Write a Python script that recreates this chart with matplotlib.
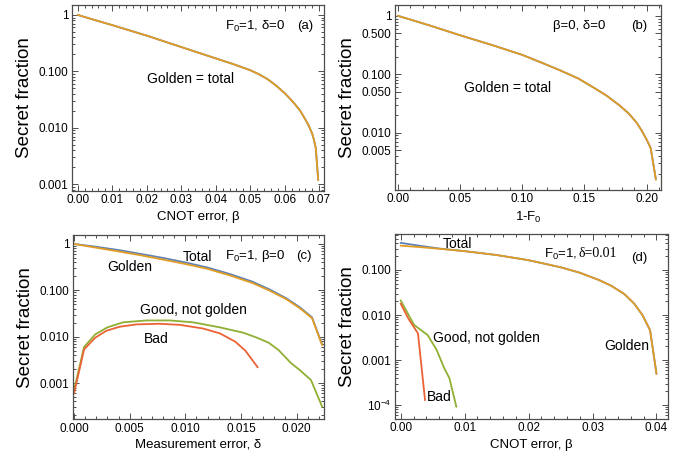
import numpy as np
import matplotlib
matplotlib.use('Agg')
import matplotlib.pyplot as plt
from matplotlib.ticker import FixedLocator, AutoMinorLocator, LogLocator, NullFormatter

plt.rcParams['font.family'] = ['Liberation Sans', 'DejaVu Sans']
plt.rcParams['mathtext.fontset'] = 'custom'
plt.rcParams['mathtext.rm'] = 'Liberation Sans'
plt.rcParams['mathtext.it'] = 'Liberation Sans:italic'

BLUE = '#5E81B5'
ORANGE = '#E19C24'
GREEN = '#8FB032'
RED = '#EB6235'
FRAME = '#4d4d4d'

# (a) F0=1, delta=0, vs CNOT error beta
beta_a = [0, 0.005, 0.01, 0.02, 0.03, 0.04, 0.045, 0.05, 0.0525, 0.055, 0.0575, 0.06, 0.0615,
          0.063, 0.0645, 0.066, 0.067, 0.068, 0.0685, 0.069, 0.0697]
golden_a = [1.0, 0.81, 0.66, 0.43, 0.27, 0.17, 0.135, 0.105, 0.089, 0.073, 0.056, 0.041, 0.033,
            0.026, 0.020, 0.014, 0.0108, 0.0078, 0.0060, 0.0044, 0.0012]

# (b) beta=0, delta=0, vs 1-F0
inf_b = [0, 0.025, 0.05, 0.075, 0.10, 0.115, 0.13, 0.145, 0.157, 0.168, 0.1786, 0.186, 0.192,
         0.196, 0.200, 0.2033, 0.2075]
golden_b = [1.0, 0.69, 0.465, 0.32, 0.215, 0.16, 0.118, 0.085, 0.060, 0.043, 0.029, 0.021, 0.0149,
            0.011, 0.0077, 0.0055, 0.0016]

# (c) F0=1, beta=0, vs measurement error delta
delta_c = [0, 0.002, 0.004, 0.006, 0.008, 0.010, 0.012, 0.014, 0.016, 0.0176, 0.0191, 0.0203, 0.0214, 0.0223]
total_c = [1.0, 0.87, 0.74, 0.61, 0.50, 0.40, 0.31, 0.225, 0.155, 0.104, 0.067, 0.043, 0.026, 0.0068]
golden_c = [1.0, 0.83, 0.69, 0.57, 0.46, 0.37, 0.29, 0.21, 0.145, 0.098, 0.064, 0.041, 0.025, 0.0066]
delta_good_c = [0, 0.0009, 0.0019, 0.003, 0.0044, 0.0065, 0.0086, 0.0107, 0.0131, 0.0152, 0.0164,
                0.0175, 0.0184, 0.0195, 0.0203, 0.0213, 0.0223]
good_c = [0.0007, 0.006, 0.0112, 0.0159, 0.0204, 0.0224, 0.0224, 0.0204, 0.0159, 0.0122, 0.0096,
          0.0074, 0.0051, 0.0027, 0.0019, 0.00116, 0.00031]
delta_bad_c = [0, 0.0009, 0.0019, 0.0029, 0.0041, 0.0056, 0.0077, 0.0095, 0.0116, 0.0131, 0.0145,
               0.0154, 0.0165]
bad_c = [0.0006, 0.0053, 0.0095, 0.0134, 0.0164, 0.0184, 0.019, 0.018, 0.015, 0.0118, 0.0078,
         0.005, 0.0022]

# (d) F0=1, delta=0.01, vs CNOT error beta
beta_d = [0, 0.003, 0.006, 0.01, 0.015, 0.02, 0.025, 0.028, 0.031, 0.033, 0.035, 0.0365, 0.0378,
          0.039, 0.040]
total_d = [0.40, 0.345, 0.30, 0.262, 0.215, 0.165, 0.115, 0.087, 0.060, 0.044, 0.029, 0.018, 0.010,
           0.0046, 0.0005]
golden_d = [0.347, 0.322, 0.296, 0.262, 0.215, 0.165, 0.115, 0.087, 0.060, 0.044, 0.029, 0.018, 0.010,
            0.0046, 0.0005]
beta_good_d = [0, 0.0021, 0.0042, 0.0056, 0.0068, 0.0076, 0.0087]
good_d = [0.021, 0.0060, 0.0036, 0.0017, 0.00066, 0.0004, 0.000092]
beta_bad_d = [0, 0.0012, 0.0027, 0.0038]
bad_d = [0.0178, 0.0083, 0.0039, 0.00013]

fig = plt.figure(figsize=(6.88, 4.62), dpi=100)
ax_a = fig.add_axes([0.1047, 0.5866, 0.3663, 0.4026])
ax_b = fig.add_axes([0.5741, 0.5887, 0.3866, 0.4004])
ax_c = fig.add_axes([0.1057, 0.0924, 0.3657, 0.3989])
ax_d = fig.add_axes([0.5737, 0.0931, 0.3972, 0.4004])


def style(ax, xticks, xfmt, yticks, ylabels, xlim, ylim):
    ax.set_yscale('log')
    ax.set_xlim(*xlim)
    ax.set_ylim(*ylim)
    ax.xaxis.set_major_locator(FixedLocator(xticks))
    ax.set_xticklabels([xfmt % t for t in xticks])
    ax.xaxis.set_minor_locator(AutoMinorLocator(5))
    ax.yaxis.set_major_locator(FixedLocator(yticks))
    ax.set_yticklabels(ylabels)
    ax.yaxis.set_minor_locator(LogLocator(base=10, subs=np.arange(2, 10)))
    ax.yaxis.set_minor_formatter(NullFormatter())
    ax.tick_params(which='both', direction='in', top=True, right=True, color=FRAME,
                   labelsize=8.5, pad=2.5, width=0.7)
    ax.tick_params(which='major', length=4)
    ax.tick_params(which='minor', length=2.2)
    for s in ax.spines.values():
        s.set_color(FRAME)
        s.set_linewidth(0.9)


def note(ax, x, y, s, size=10, **kw):
    ax.text(x, y, s, transform=ax.transAxes, fontsize=size, ha='center', va='center', **kw)


lw = 1.3

# (a)
ax_a.plot(beta_a, golden_a, color=BLUE, lw=lw)
ax_a.plot(beta_a, golden_a, color=ORANGE, lw=lw)
style(ax_a, [0, 0.01, 0.02, 0.03, 0.04, 0.05, 0.06, 0.07], '%.2f',
      [1, 0.1, 0.01, 0.001], ['1', '0.100', '0.010', '0.001'], (-0.00165, 0.0714), (0.00076, 1.5))
ax_a.set_ylabel('Secret fraction', fontsize=13.5, labelpad=4)
ax_a.set_xlabel('CNOT error, β', fontsize=9.5, labelpad=3)
note(ax_a, 0.472, 0.602, 'Golden = total')
note(ax_a, 0.726, 0.887, 'F$_0$=1, δ=0', 9.5)
note(ax_a, 0.927, 0.887, '(a)', 9.5)

# (b)
ax_b.plot(inf_b, golden_b, color=BLUE, lw=lw)
ax_b.plot(inf_b, golden_b, color=ORANGE, lw=lw)
style(ax_b, [0, 0.05, 0.10, 0.15, 0.20], '%.2f',
      [1, 0.5, 0.1, 0.05, 0.01, 0.005], ['1', '0.500', '0.100', '0.050', '0.010', '0.005'],
      (-0.0024, 0.2116), (0.00105, 1.53))
ax_b.set_ylabel('Secret fraction', fontsize=13.5, labelpad=4)
ax_b.set_xlabel('1-F$_0$', fontsize=9.5, labelpad=3)
note(ax_b, 0.423, 0.551, 'Golden = total')
note(ax_b, 0.692, 0.887, 'β=0, δ=0', 9.5)
note(ax_b, 0.919, 0.887, '(b)', 9.5)

# (c)
ax_c.plot(delta_c, total_c, color=BLUE, lw=lw)
ax_c.plot(delta_c, golden_c, color=ORANGE, lw=lw)
ax_c.plot(delta_good_c, good_c, color=GREEN, lw=lw)
ax_c.plot(delta_bad_c, bad_c, color=RED, lw=lw)
style(ax_c, [0, 0.005, 0.010, 0.015, 0.020], '%.3f',
      [1, 0.1, 0.01, 0.001], ['1', '0.100', '0.010', '0.001'], (-0.00012, 0.0225), (0.000165, 1.56))
ax_c.set_ylabel('Secret fraction', fontsize=13.5, labelpad=4)
ax_c.set_xlabel('Measurement error, δ', fontsize=9.5, labelpad=3)
note(ax_c, 0.494, 0.881, 'Total')
note(ax_c, 0.228, 0.827, 'Golden')
note(ax_c, 0.479, 0.593, 'Good, not golden')
note(ax_c, 0.331, 0.436, 'Bad')
note(ax_c, 0.726, 0.886, 'F$_0$=1, β=0', 9.5)
note(ax_c, 0.92, 0.886, '(c)', 9.5)

# (d)
ax_d.plot(beta_d, total_d, color=BLUE, lw=lw)
ax_d.plot(beta_d, golden_d, color=ORANGE, lw=lw)
ax_d.plot(beta_good_d, good_d, color=GREEN, lw=lw)
ax_d.plot(beta_bad_d, bad_d, color=RED, lw=lw)
style(ax_d, [0, 0.01, 0.02, 0.03, 0.04], '%.2f',
      [0.1, 0.01, 0.001, 0.0001], ['0.100', '0.010', '0.001', '10$^{-4}$'],
      (-0.00094, 0.0418), (4.9e-5, 0.63))
ax_d.set_ylabel('Secret fraction', fontsize=13.5, labelpad=4)
ax_d.set_xlabel('CNOT error, β', fontsize=9.5, labelpad=3)
note(ax_d, 0.228, 0.946, 'Total')
note(ax_d, 0.850, 0.395, 'Golden')
note(ax_d, 0.334, 0.438, 'Good, not golden')
note(ax_d, 0.162, 0.119, 'Bad')
ax_d.text(0.674, 0.892, 'F$_0$=1, ', transform=ax_d.transAxes, fontsize=9.5, ha='right', va='center')
ax_d.text(0.674, 0.892, 'δ=0.01', transform=ax_d.transAxes, fontsize=10, ha='left', va='center',
          family=['Liberation Serif', 'DejaVu Serif'])
note(ax_d, 0.896, 0.870, '(d)', 9.5)

fig.savefig('out.png', dpi=100)
